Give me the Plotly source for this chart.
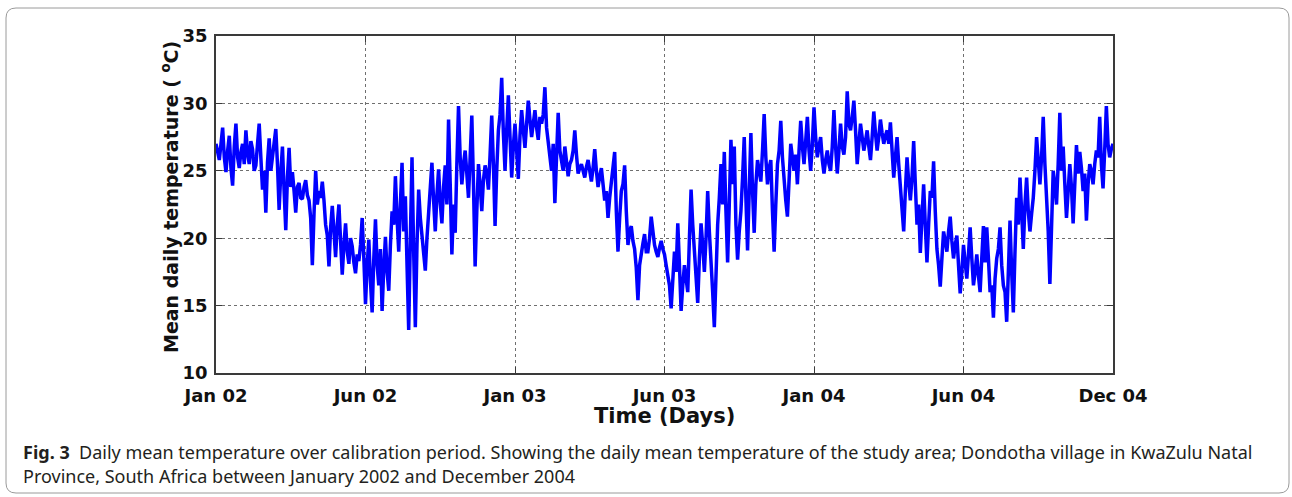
import plotly.graph_objects as go

# ---- data: mean daily temperature (°C), every 2 days ----
day_step = 2
temperature = [
    27.0, 26.2, 25.8, 27.0, 28.2, 26.0, 24.9, 26.5, 27.6, 25.2, 23.9, 26.8, 28.5, 26.0, 25.2, 26.4, 27.0, 25.5, 28.0, 26.3,
    25.5, 27.2, 26.6, 25.0, 25.4, 27.0, 28.5, 26.0, 23.6, 25.0, 21.9, 25.6, 27.4, 25.0, 26.1, 27.0, 28.1, 25.5, 22.1, 24.8,
    26.8, 23.5, 20.6, 24.5, 26.7, 23.8, 24.9, 23.5, 21.9, 23.8, 24.1, 23.0, 22.9, 23.8, 24.3, 23.2, 22.8, 21.5, 18.0, 21.8,
    25.0, 22.5, 23.5, 23.0, 24.2, 22.8, 21.0, 20.2, 17.9, 20.8, 22.4, 20.5, 18.6, 21.0, 22.5, 19.8, 17.3, 19.5, 21.1, 19.0,
    18.1, 20.0, 19.4, 18.2, 17.4, 18.8, 18.3, 19.5, 21.5, 18.5, 15.1, 18.0, 19.9, 16.8, 14.5, 18.5, 21.4, 18.0, 16.5, 19.2,
    14.6, 17.8, 20.1, 17.5, 16.1, 19.5, 22.0, 21.0, 24.6, 21.5, 19.0, 22.5, 25.6, 20.5, 23.1, 18.0, 13.2, 20.0, 26.0, 19.0,
    13.4, 19.5, 23.6, 21.5, 20.0, 19.0, 17.6, 20.0, 22.0, 23.0, 25.6, 22.8, 20.5, 23.2, 25.1, 22.6, 21.1, 23.8, 25.4, 22.5,
    28.8, 24.0, 18.8, 22.5, 20.4, 25.5, 29.8, 26.0, 24.0, 25.5, 26.5, 24.8, 23.0, 26.0, 29.1, 24.0, 17.9, 22.0, 25.5, 24.0,
    22.0, 24.3, 25.4, 24.8, 23.6, 26.2, 29.1, 25.5, 20.9, 25.0, 28.0, 29.2, 31.9, 27.8, 25.0, 28.0, 30.6, 27.5, 24.5, 26.8,
    28.5, 26.5, 24.4, 27.6, 29.5, 28.0, 26.7, 28.5, 30.2, 28.8, 27.5, 28.5, 29.5, 28.2, 27.3, 29.0, 28.5, 29.2, 31.2, 28.2,
    27.0, 26.0, 25.0, 27.0, 22.6, 26.0, 29.3, 26.5, 25.5, 25.0, 26.8, 25.6, 24.6, 25.5, 25.8, 26.5, 28.0, 26.2, 24.8, 25.2,
    25.5, 25.0, 24.5, 25.3, 25.8, 25.0, 24.2, 25.2, 26.6, 25.0, 23.8, 24.6, 25.2, 24.0, 22.8, 23.5, 21.5, 23.0, 24.0, 25.0,
    26.4, 22.0, 19.0, 21.5, 23.5, 24.0, 25.4, 22.0, 19.5, 20.5, 20.9, 19.8, 19.2, 17.8, 15.4, 18.0, 19.0, 19.6, 20.3, 19.0,
    19.0, 20.0, 21.6, 20.2, 19.5, 19.0, 18.6, 19.3, 19.8, 19.2, 18.8, 18.0, 17.0, 16.5, 14.8, 17.5, 19.0, 17.5, 21.1, 18.0,
    14.6, 16.5, 18.0, 17.0, 16.0, 20.0, 23.6, 21.0, 19.0, 17.0, 15.2, 18.5, 21.1, 19.5, 17.5, 20.0, 23.5, 20.5, 18.5, 16.0,
    13.4, 17.5, 21.0, 23.0, 25.5, 22.5, 26.4, 22.0, 18.2, 22.5, 27.3, 24.0, 26.8, 21.0, 18.4, 20.5, 22.0, 24.5, 27.5, 23.0,
    19.1, 23.5, 27.8, 23.5, 20.4, 24.0, 25.8, 25.0, 24.2, 26.5, 29.2, 26.0, 24.0, 25.2, 25.8, 22.0, 19.0, 22.5, 25.5, 26.5,
    28.7, 26.0, 24.0, 22.8, 21.6, 24.5, 27.0, 26.0, 25.0, 26.2, 24.0, 26.5, 28.7, 26.8, 25.5, 27.2, 29.0, 26.5, 25.0, 27.0,
    29.7, 27.5, 26.0, 26.8, 27.5, 25.8, 24.8, 25.8, 26.5, 25.5, 25.0, 26.8, 29.5, 26.8, 24.8, 26.5, 28.5, 26.8, 26.2, 27.5,
    30.9, 28.5, 28.0, 29.0, 30.2, 28.0, 25.5, 27.0, 28.5, 27.5, 26.5, 27.2, 28.0, 26.8, 25.8, 27.5, 29.4, 27.8, 26.5, 27.5,
    28.8, 27.8, 27.0, 27.6, 28.0, 27.0, 28.6, 26.5, 24.5, 26.0, 27.5, 25.5, 23.5, 22.0, 20.5, 23.5, 26.0, 24.2, 22.8, 24.5,
    27.2, 24.0, 21.0, 22.5, 18.9, 21.5, 24.0, 21.0, 18.2, 21.0, 23.5, 23.0, 25.7, 22.0, 19.2, 18.0, 16.4, 18.5, 20.5, 19.8,
    19.0, 20.5, 21.6, 19.8, 18.5, 19.5, 20.2, 18.0, 15.9, 17.5, 19.5, 18.2, 17.0, 18.8, 20.8, 18.5, 16.5, 17.5, 18.8, 17.2,
    16.0, 18.5, 20.9, 18.2, 20.8, 18.5, 16.0, 16.5, 14.1, 17.0, 18.5, 19.2, 20.8, 18.0, 16.5, 16.0, 13.8, 17.5, 21.3, 17.5,
    14.5, 19.0, 23.0, 21.0, 24.5, 22.0, 19.2, 22.5, 24.5, 22.0, 20.5, 21.8, 23.0, 25.0, 27.5, 25.8, 24.0, 26.0, 29.0, 25.5,
    23.5, 20.5, 16.6, 22.0, 25.0, 24.0, 22.5, 25.5, 29.3, 25.0, 26.8, 24.0, 21.5, 23.5, 25.5, 23.8, 21.1, 24.0, 26.9, 24.8,
    26.4, 25.2, 23.5, 24.8, 21.3, 24.0, 25.5, 25.0, 24.0, 25.5, 26.5, 26.0, 29.0, 25.5, 23.7, 26.5, 29.8, 27.0, 26.0, 26.6,
    27.0,
]
days = [i * day_step for i in range(len(temperature))]

x_tick_days = [0, 180, 360, 540, 720, 900, 1080]
x_tick_labels = ["Jan 02", "Jun 02", "Jan 03", "Jun 03", "Jan 04", "Jun 04", "Dec 04"]
y_ticks = [10, 15, 20, 25, 30, 35]

# ---- layout geometry (pixels) ----
W, H = 1292, 497
L, R, T, B = 216, 1113, 36, 373
PW, PH = R - L, B - T


def px(x):
    return (x - L) / PW


def py(y):
    return (B - y) / PH


fig = go.Figure()
fig.add_trace(go.Scatter(
    x=days, y=temperature, mode="lines",
    line=dict(color="#0000FF", width=3.5),
    showlegend=False, hoverinfo="skip",
))

axis_common = dict(
    showline=True, linecolor="#3a3a3a", linewidth=1.5, mirror="ticks",
    ticks="inside", ticklen=6, tickwidth=1.2, tickcolor="#3a3a3a",
    showgrid=True, gridcolor="#6f6f6f", gridwidth=1, griddash="dot",
    zeroline=False,
    tickfont=dict(family="DejaVu Sans", size=18, color="#111111", weight="bold"),
)

fig.update_xaxes(
    range=[0, 1080], tickmode="array", tickvals=x_tick_days, ticktext=x_tick_labels,
    ticklabelstandoff=6, **axis_common,
)
fig.update_yaxes(
    range=[10, 35], tickmode="array", tickvals=y_ticks,
    ticklabelstandoff=3, **axis_common,
)

# rounded outer frame
x0, y0, x1, y1, r = 6, 8, 1289, 493, 10
path = (
    f"M {px(x0 + r)} {py(y0)} L {px(x1 - r)} {py(y0)} "
    f"Q {px(x1)} {py(y0)} {px(x1)} {py(y0 + r)} "
    f"L {px(x1)} {py(y1 - r)} Q {px(x1)} {py(y1)} {px(x1 - r)} {py(y1)} "
    f"L {px(x0 + r)} {py(y1)} Q {px(x0)} {py(y1)} {px(x0)} {py(y1 - r)} "
    f"L {px(x0)} {py(y0 + r)} Q {px(x0)} {py(y0)} {px(x0 + r)} {py(y0)} Z"
)
fig.add_shape(type="path", path=path, xref="paper", yref="paper",
              line=dict(color="#9a9a9a", width=1), layer="below")

annotations = [
    dict(text="Time (Days)", x=px(664), y=py(416), xanchor="center", yanchor="middle",
         font=dict(family="DejaVu Sans", size=21, color="#111111", weight="bold")),
    dict(text="Mean daily temperature ( <sup>o</sup>C)", x=px(170), y=py(197),
         xanchor="center", yanchor="middle", textangle=-90,
         font=dict(family="DejaVu Sans", size=19, color="#111111", weight="bold")),
    dict(text="<b>Fig. 3</b>  Daily mean temperature over calibration period. Showing the daily mean "
              "temperature of the study area; Dondotha village in KwaZulu Natal",
         x=px(21), y=py(452), xanchor="left", yanchor="middle",
         font=dict(family="Noto Sans", size=18, color="#231f20")),
    dict(text="Province, South Africa between January 2002 and December 2004",
         x=px(21), y=py(476), xanchor="left", yanchor="middle",
         font=dict(family="Noto Sans", size=18, color="#231f20")),
]
for a in annotations:
    a.update(xref="paper", yref="paper", showarrow=False)
fig.update_layout(annotations=annotations)

fig.update_layout(
    width=W, height=H,
    margin=dict(l=L, r=W - R, t=T, b=H - B, pad=0),
    paper_bgcolor="white", plot_bgcolor="white",
)

fig.write_html("out.html")
